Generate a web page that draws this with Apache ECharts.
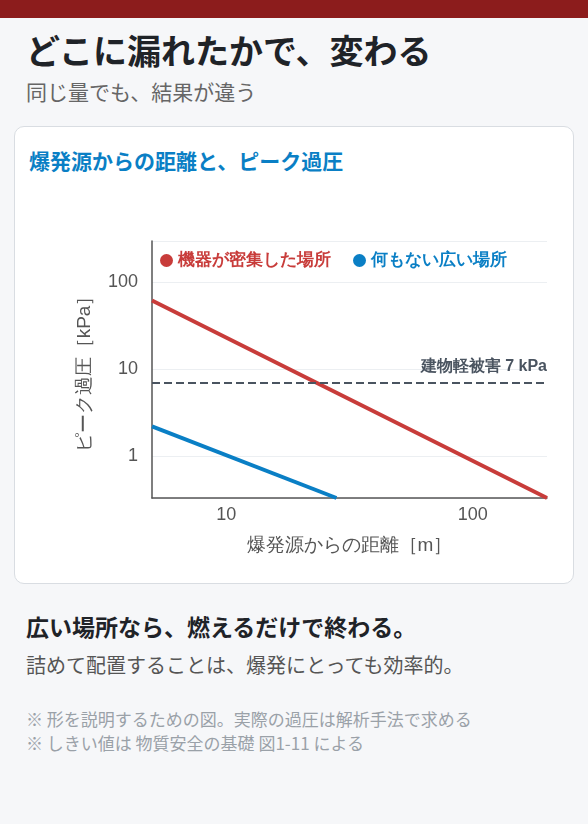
<!DOCTYPE html>
<html><head><meta charset="utf-8">
<script src="https://cdn.jsdelivr.net/npm/echarts@6/dist/echarts.min.js"></script>
<style>
body{margin:0;background:#f6f7f9;font-family:"Noto Sans CJK JP","Noto Sans",sans-serif;width:588px;height:824px;overflow:hidden}
.bar{height:18px;background:#8c1c1c}
h1{margin:0;position:absolute;left:26px;top:27px;font-size:34px;font-weight:700;color:#1f2328;line-height:46px}
.sub{position:absolute;left:26px;top:77px;font-size:21px;color:#666;line-height:28px}
.card{position:absolute;left:14px;top:126px;width:558px;height:456px;background:#fff;border:1.5px solid #d9dde2;border-radius:10px}
.ct{position:absolute;left:14px;top:19px;font-size:21px;font-weight:700;color:#0a7fc5;line-height:28px}
#c{position:absolute;left:0;top:60px;width:558px;height:390px}
.h2{position:absolute;left:26px;top:611px;font-size:23px;font-weight:700;color:#1f2328;line-height:30px}
.p{position:absolute;left:26px;top:651px;font-size:20px;color:#555;line-height:28px}
.n{position:absolute;left:26px;font-size:17px;color:#9aa1a8;line-height:22px}
</style></head><body>
<div class="bar"></div>
<h1>どこに漏れたかで、変わる</h1>
<div class="sub">同じ量でも、結果が違う</div>
<div class="card"><div class="ct">爆発源からの距離と、ピーク過圧</div><div id="c"></div></div>
<div class="h2">広い場所なら、燃えるだけで終わる。</div>
<div class="p">詰めて配置することは、爆発にとっても効率的。</div>
<div class="n" style="top:708px">※ 形を説明するための図。実際の過圧は解析手法で求める</div>
<div class="n" style="top:732px">※ しきい値は 物質安全の基礎 図1-11 による</div>
<script>
const seriesNames=['機器が密集した場所','何もない広い場所'];
const denseData=[[5,62],[200,0.33]];
const openData=[[5,2.2],[28,0.33]];
const threshold=7;
const thresholdLabel='建物軽被害 7 kPa';
const ch=echarts.init(document.getElementById('c'));
const lab={color:'#555',fontSize:18,formatter:v=>[1,10,100].includes(Math.round(v*1000)/1000)?String(Math.round(v)):''};
ch.setOption({
 animation:false,
 legend:{top:60,left:140,itemGap:22,icon:'circle',itemWidth:13,itemHeight:13,
  textStyle:{fontSize:17,fontWeight:'bold',color:'inherit'},
  data:seriesNames},
 grid:{left:137,right:26,top:54,bottom:79},
 xAxis:{type:'log',min:5,max:200,name:'爆発源からの距離［m］',nameLocation:'middle',nameGap:38,
  nameTextStyle:{fontSize:19,color:'#555'},
  axisLine:{lineStyle:{color:'#555',width:1.5}},axisTick:{show:false},splitLine:{show:false},
  axisLabel:{...lab,showMinLabel:false,showMaxLabel:false}},
 yAxis:{type:'log',min:0.33,max:300,name:'ピーク過圧［kPa］',nameLocation:'middle',nameGap:58,
  nameTextStyle:{fontSize:19,color:'#555'},
  axisLine:{show:true,lineStyle:{color:'#555',width:1.5}},axisTick:{show:false},
  splitLine:{lineStyle:{color:'#eceff2'}},
  axisLabel:{...lab,margin:14,showMinLabel:false,showMaxLabel:false}},
 series:[
  {name:seriesNames[0],type:'line',data:denseData,symbol:'none',lineStyle:{width:4,color:'#c83c3a'},itemStyle:{color:'#c83c3a'},
   markLine:{silent:true,symbol:'none',data:[{yAxis:threshold}],lineStyle:{type:'dashed',color:'#4a5460',width:2},
    label:{position:'insideEndTop',formatter:thresholdLabel,color:'#4a5460',fontSize:16,fontWeight:'bold',distance:[0,8]}}},
  {name:seriesNames[1],type:'line',data:openData,symbol:'none',lineStyle:{width:4,color:'#0a7fc5'},itemStyle:{color:'#0a7fc5'}}
 ]});
</script></body></html>
